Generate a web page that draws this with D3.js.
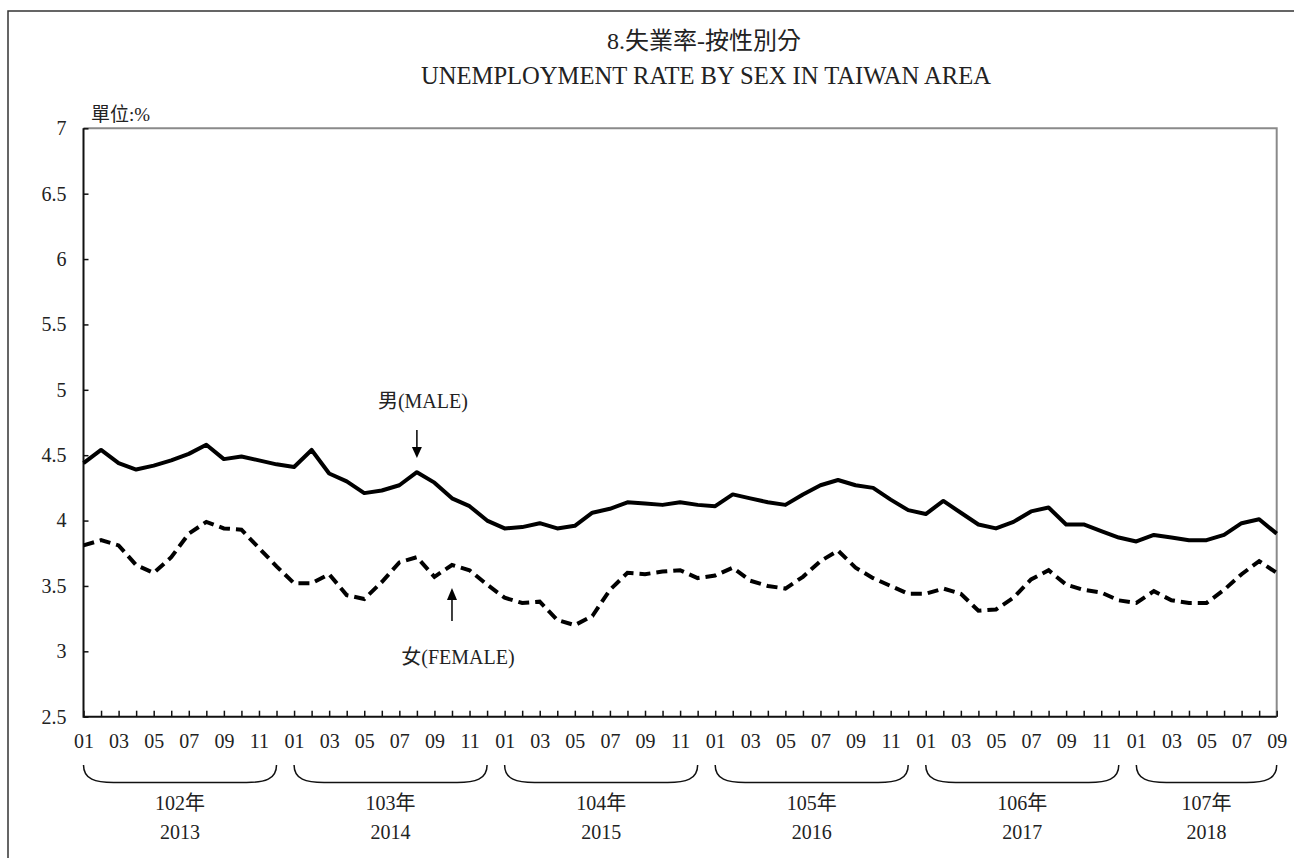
<!DOCTYPE html>
<html>
<head>
<meta charset="utf-8">
<script src="https://cdn.jsdelivr.net/npm/d3@7"></script>
<style>
  body { margin: 0; background: #fff; }
  svg text { font-family: 'Liberation Serif', 'Noto Sans CJK TC', serif; fill: #222; }
</style>
</head>
<body>
<svg id="chart" width="1294" height="858"></svg>
<script>
// data
const years = ['2013', '2014', '2015', '2016', '2017', '2018'];
const rocYears = ['102年', '103年', '104年', '105年', '106年', '107年'];
const monthLabels = ['01', '02', '03', '04', '05', '06', '07', '08', '09', '10', '11', '12'];
const lastMonth = 9; // 2018 ends at 09

const maleRate = [
  4.44, 4.54, 4.44, 4.39, 4.42, 4.46, 4.51, 4.58, 4.47, 4.49, 4.46, 4.43,
  4.41, 4.54, 4.36, 4.30, 4.21, 4.23, 4.27, 4.37, 4.29, 4.17, 4.11, 4.00,
  3.94, 3.95, 3.98, 3.94, 3.96, 4.06, 4.09, 4.14, 4.13, 4.12, 4.14, 4.12,
  4.11, 4.20, 4.17, 4.14, 4.12, 4.20, 4.27, 4.31, 4.27, 4.25, 4.16, 4.08,
  4.05, 4.15, 4.06, 3.97, 3.94, 3.99, 4.07, 4.10, 3.97, 3.97, 3.92, 3.87,
  3.84, 3.89, 3.87, 3.85, 3.85, 3.89, 3.98, 4.01, 3.90
];
const femaleRate = [
  3.81, 3.85, 3.81, 3.66, 3.60, 3.72, 3.90, 3.99, 3.94, 3.93, 3.79, 3.65,
  3.52, 3.52, 3.59, 3.43, 3.40, 3.53, 3.68, 3.72, 3.57, 3.66, 3.62, 3.51,
  3.41, 3.37, 3.38, 3.24, 3.20, 3.27, 3.47, 3.60, 3.59, 3.61, 3.62, 3.56,
  3.58, 3.64, 3.54, 3.50, 3.48, 3.57, 3.69, 3.77, 3.64, 3.56, 3.50, 3.44,
  3.44, 3.48, 3.44, 3.31, 3.32, 3.41, 3.55, 3.62, 3.51, 3.47, 3.45, 3.39,
  3.37, 3.46, 3.39, 3.37, 3.37, 3.47, 3.59, 3.69, 3.60
];
const yTicks = [2.5, 3, 3.5, 4, 4.5, 5, 5.5, 6, 6.5, 7];

const FONT = "'Liberation Serif', 'Noto Sans CJK TC', serif";

// categories yyyy-mm
const periods = [];
years.forEach((yr, yi) => {
  const n = yi === years.length - 1 ? lastMonth : 12;
  for (let m = 0; m < n; m++) periods.push(yr + '-' + monthLabels[m]);
});

const plot = { left: 83.5, right: 1276.7, top: 128.3, bottom: 716.7 };

const svg = d3.select('#chart');

// outer frame
svg.append('rect')
  .attr('x', 8).attr('y', 11)
  .attr('width', 1300).attr('height', 900)
  .attr('fill', 'none')
  .attr('stroke', '#333')
  .attr('stroke-width', 1.5);

const x = d3.scalePoint().domain(periods).range([plot.left, plot.right]);
const y = d3.scaleLinear().domain([2.5, 7]).range([plot.bottom, plot.top]);

// titles
svg.append('text')
  .attr('x', 704).attr('y', 49)
  .attr('text-anchor', 'middle')
  .style('font-size', '24px')
  .text('8.失業率-按性別分');
svg.append('text')
  .attr('x', 706).attr('y', 84)
  .attr('text-anchor', 'middle')
  .attr('textLength', 570)
  .attr('lengthAdjust', 'spacingAndGlyphs')
  .style('font-size', '25px')
  .text('UNEMPLOYMENT RATE BY SEX IN TAIWAN AREA');
svg.append('text')
  .attr('x', 91).attr('y', 121)
  .style('font-size', '19px')
  .text('單位:%');

// plot border (top/right grey)
svg.append('path')
  .attr('d', `M${plot.left},${plot.top}H${plot.right}V${plot.bottom}`)
  .attr('fill', 'none')
  .attr('stroke', '#8a8a8a')
  .attr('stroke-width', 2);

// Y axis
const yAxis = svg.append('g')
  .attr('transform', `translate(${plot.left},0)`)
  .attr('font-family', FONT)
  .call(d3.axisLeft(y).tickValues(yTicks).tickSize(-5).tickPadding(17)
    .tickFormat(d => (d % 1 ? d.toFixed(1) : d)));
yAxis.select('.domain').remove();
yAxis.selectAll('line').attr('stroke', '#111').attr('stroke-width', 1.5);
yAxis.selectAll('text')
  .style('font-family', FONT)
  .style('font-size', '20px')
  .attr('fill', '#222');

// X axis
const xAxis = svg.append('g')
  .attr('transform', `translate(0,${plot.bottom})`)
  .attr('font-family', FONT)
  .call(d3.axisBottom(x).tickSize(-6).tickPadding(17)
    .tickFormat((d, i) => (i % 2 === 0 ? d.slice(5) : '')));
xAxis.select('.domain').remove();
xAxis.selectAll('line').attr('stroke', '#111').attr('stroke-width', 1.5);
xAxis.selectAll('text')
  .style('font-family', FONT)
  .style('font-size', '20px')
  .attr('fill', '#222');

// left / bottom axis lines
svg.append('path')
  .attr('d', `M${plot.left},${plot.top}V${plot.bottom}H${plot.right}`)
  .attr('fill', 'none')
  .attr('stroke', '#111')
  .attr('stroke-width', 2);

// year braces and labels
years.forEach((yr, yi) => {
  const yrPeriods = periods.filter(p => p.startsWith(yr));
  const x0 = x(yrPeriods[0]);
  const x1 = x(yrPeriods[yrPeriods.length - 1]);
  const top = 765, bot = 782.5;
  svg.append('path')
    .attr('d', `M${x0},${top}C${x0},${bot - 3} ${x0 + 12},${bot} ${x0 + 30},${bot}` +
      `L${x1 - 30},${bot}C${x1 - 12},${bot} ${x1},${bot - 3} ${x1},${top}`)
    .attr('fill', 'none')
    .attr('stroke', '#111')
    .attr('stroke-width', 1.5);
  const cx = (x0 + x1) / 2;
  svg.append('text')
    .attr('x', cx).attr('y', 810)
    .attr('text-anchor', 'middle')
    .style('font-size', '20px')
    .text(rocYears[yi]);
  svg.append('text')
    .attr('x', cx).attr('y', 839)
    .attr('text-anchor', 'middle')
    .style('font-size', '20px')
    .text(yr);
});

// lines
const line = d3.line()
  .x((d, i) => x(periods[i]))
  .y(d => y(d));

svg.append('path')
  .datum(maleRate)
  .attr('d', line)
  .attr('fill', 'none')
  .attr('stroke', '#000')
  .attr('stroke-width', 4)
  .attr('stroke-linejoin', 'round');

svg.append('path')
  .datum(femaleRate)
  .attr('d', line)
  .attr('fill', 'none')
  .attr('stroke', '#000')
  .attr('stroke-width', 4)
  .attr('stroke-dasharray', '11,6');

// annotations
const maleX = x('2014-08');
svg.append('text')
  .attr('x', maleX + 6).attr('y', 408)
  .attr('text-anchor', 'middle')
  .style('font-size', '20px')
  .text('男(MALE)');
svg.append('line')
  .attr('x1', maleX).attr('x2', maleX)
  .attr('y1', 430).attr('y2', 449)
  .attr('stroke', '#000').attr('stroke-width', 1.5);
svg.append('path')
  .attr('d', `M${maleX - 5},447L${maleX + 5},447L${maleX},458Z`)
  .attr('fill', '#000');

const femaleX = x('2014-10');
svg.append('text')
  .attr('x', femaleX + 6).attr('y', 664)
  .attr('text-anchor', 'middle')
  .style('font-size', '20px')
  .text('女(FEMALE)');
svg.append('line')
  .attr('x1', femaleX).attr('x2', femaleX)
  .attr('y1', 621).attr('y2', 598)
  .attr('stroke', '#000').attr('stroke-width', 1.5);
svg.append('path')
  .attr('d', `M${femaleX - 5},600L${femaleX + 5},600L${femaleX},588Z`)
  .attr('fill', '#000');
</script>
</body>
</html>
